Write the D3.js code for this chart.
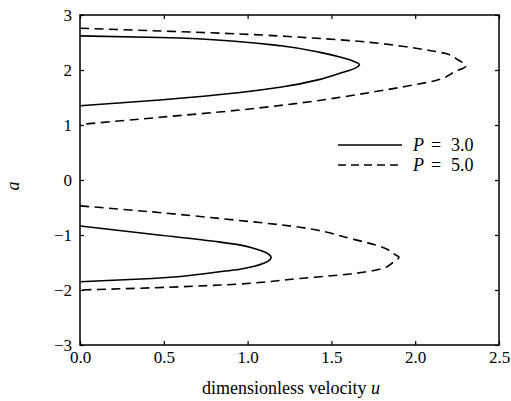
<!DOCTYPE html>
<html>
<head>
<meta charset="utf-8">
<script src="https://cdn.jsdelivr.net/npm/d3@7"></script>
<style>
  body { margin: 0; background: #fff; }
  svg text { font-family: "Liberation Serif", "DejaVu Serif", serif; fill: #000; }
</style>
</head>
<body>
<div id="chart"></div>
<script>
// each loop is listed from its top end (u = 0) round the tip to its bottom end
// P = 3.0, upper loop
const p3UpperU = [0, 0.477, 0.955, 1.2, 1.432, 1.551, 1.631, 1.667, 1.64, 1.56, 1.432, 1.193, 0.955, 0.477, 0];
const p3UpperA = [2.62, 2.59, 2.515, 2.44, 2.32, 2.235, 2.16, 2.10, 2.03, 1.95, 1.83, 1.685, 1.59, 1.455, 1.351];
// P = 5.0, upper loop
const p5UpperU = [0, 0.477, 0.955, 1.372, 1.73, 1.913, 2.093, 2.178, 2.257, 2.303, 2.237, 2.124, 1.939, 1.75, 1.372, 0.955, 0.477, 0];
const p5UpperA = [2.76, 2.71, 2.655, 2.585, 2.503, 2.436, 2.351, 2.303, 2.182, 2.073, 1.97, 1.81, 1.70, 1.60, 1.424, 1.273, 1.14, 1.01];
// P = 3.0, lower loop
const p3LowerU = [0, 0.43, 0.835, 0.95, 1.035, 1.105, 1.14, 1.10, 1.035, 0.955, 0.835, 0.43, 0];
const p3LowerA = [-0.835, -0.985, -1.13, -1.18, -1.24, -1.315, -1.41, -1.51, -1.573, -1.622, -1.667, -1.79, -1.85];
// P = 5.0, lower loop
const p5LowerU = [0, 0.43, 0.835, 1.313, 1.629, 1.717, 1.804, 1.884, 1.903, 1.869, 1.788, 1.70, 1.611, 1.313, 0.835, 0.43, 0];
const p5LowerA = [-0.47, -0.58, -0.70, -0.86, -1.076, -1.143, -1.221, -1.364, -1.40, -1.497, -1.624, -1.673, -1.709, -1.79, -1.91, -1.96, -2.0];

const xTicks = [0, 0.5, 1.0, 1.5, 2.0, 2.5];
const yTicks = [-3, -2, -1, 0, 1, 2, 3];
const legendLabels = ["3.0", "5.0"];

const margin = {top: 15, right: 12, bottom: 56, left: 80},
    width = 511 - margin.left - margin.right,
    height = 401 - margin.top - margin.bottom;

const svg = d3.select("#chart").append("svg")
    .attr("width", 511)
    .attr("height", 401)
    .append("g")
    .attr("transform", "translate(" + margin.left + "," + margin.top + ")");

const x = d3.scaleLinear().domain([0, 2.5]).range([0, width]);
const y = d3.scaleLinear().domain([-3, 3]).range([height, 0]);

const zip = (us, as) => us.map((u, i) => ({u: u, a: as[i]}));
// u is a smooth function of a along each loop, so interpolate monotone in y
const line = d3.line()
    .x(d => x(d.u))
    .y(d => y(d.a))
    .curve(d3.curveMonotoneY);

const dashed = "9,5.5";
const curves = [
    {data: zip(p3UpperU, p3UpperA), dash: null},
    {data: zip(p5UpperU, p5UpperA), dash: dashed},
    {data: zip(p3LowerU, p3LowerA), dash: null},
    {data: zip(p5LowerU, p5LowerA), dash: dashed}
];

svg.selectAll(".curve")
    .data(curves)
    .enter().append("path")
    .attr("class", "curve")
    .attr("d", d => line(d.data))
    .attr("fill", "none")
    .attr("stroke", "#000")
    .attr("stroke-width", 1.6)
    .attr("stroke-dasharray", d => d.dash);

// axes with inward ticks
const styleAxis = function(g) {
    g.attr("font-family", null);
    g.select(".domain").remove();
    g.selectAll("line").attr("stroke", "#000").attr("stroke-width", 1.2);
    g.selectAll("text").style("font-size", "17px");
};

svg.append("g")
    .attr("transform", "translate(0," + height + ")")
    .call(d3.axisBottom(x).tickValues(xTicks).tickFormat(d3.format(".1f")).tickSize(-4).tickPadding(6))
    .call(styleAxis);

svg.append("g")
    .call(d3.axisTop(x).tickValues(xTicks).tickFormat("").tickSize(-4))
    .call(styleAxis);

svg.append("g")
    .call(d3.axisLeft(y).tickValues(yTicks).tickFormat(d3.format("d")).tickSize(-4).tickPadding(8))
    .call(styleAxis);

svg.append("g")
    .attr("transform", "translate(" + width + ",0)")
    .call(d3.axisRight(y).tickValues(yTicks).tickFormat("").tickSize(-4))
    .call(styleAxis);

// frame
svg.append("rect")
    .attr("width", width)
    .attr("height", height)
    .attr("fill", "none")
    .attr("stroke", "#000")
    .attr("stroke-width", 1.5);

// x axis label
const xl = svg.append("text")
    .attr("x", 211)
    .attr("y", height + 49)
    .style("text-anchor", "middle")
    .style("font-size", "18px");
xl.append("tspan").text("dimensionless velocity ");
xl.append("tspan").style("font-style", "italic").text("u");

// y axis label
svg.append("text")
    .attr("transform", "translate(-67,171) rotate(-90)")
    .attr("dy", "0.35em")
    .style("text-anchor", "middle")
    .style("font-size", "18px")
    .style("font-style", "italic")
    .text("a");

// legend
const legend = svg.selectAll(".legend")
    .data(legendLabels)
    .enter().append("g")
    .attr("class", "legend")
    .attr("transform", (d, i) => "translate(258," + (130 + i * 20) + ")");

legend.append("line")
    .attr("x1", 0).attr("x2", 64)
    .attr("stroke", "#000")
    .attr("stroke-width", 1.6)
    .attr("stroke-dasharray", (d, i) => i === 0 ? null : "8,5");

const lt = legend.append("text")
    .attr("dy", "0.35em")
    .style("font-size", "18px");
lt.append("tspan").attr("x", 75).style("font-style", "italic").text("P");
lt.append("tspan").attr("x", 93).text("=");
lt.append("tspan").attr("x", 113).text(d => d);
</script>
</body>
</html>
